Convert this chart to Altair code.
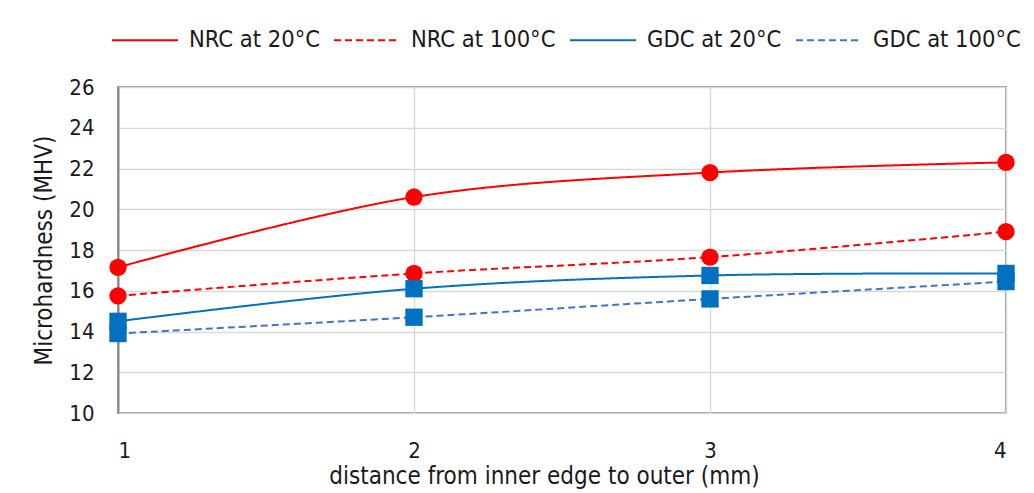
import altair as alt
import pandas as pd

distance = [1, 2, 3, 4]
series_names = ["NRC at 20°C", "NRC at 100°C", "GDC at 20°C", "GDC at 100°C"]
nrc_20 = [17.15, 20.6, 21.8, 22.3]
nrc_100 = [15.75, 16.85, 17.65, 18.9]
gdc_20 = [14.5, 16.1, 16.75, 16.85]
gdc_100 = [13.9, 14.7, 15.6, 16.45]

colors = ["#FF0000", "#FF0000", "#0070C0", "#4472C4"]
marker_colors = ["#FF0000", "#FF0000", "#0070C0", "#0070C0"]
dashes = [[1, 0], [7, 4], [1, 0], [7, 4]]
shapes = ["circle", "circle", "square", "square"]
marker_sizes = [300, 300, 270, 200]

marker_keys = ["#" + n for n in series_names]      # separate domain for the marker legend
size_keys = ["s" + n for n in series_names]

rows = []
for name, mk, sk, vals in zip(series_names, marker_keys, size_keys,
                              [nrc_20, nrc_100, gdc_20, gdc_100]):
    for d, v in zip(distance, vals):
        rows.append({"distance": d, "value": v, "series": name, "marker": mk, "sz": sk})
df = pd.DataFrame(rows)

FONT = "DejaVu Sans Condensed"
TXT = "#1a1a1a"

LINE_LEN = 66          # legend line sample length
SIZE_A = 68            # ceil(sqrt(LINE_LEN^2) + stroke width)
MARK_SIZE = 290
SIZE_B = 18            # ceil(sqrt(MARK_SIZE))
LEG_X = -7
LEG_Y = -81

x = alt.X("distance:Q", scale=alt.Scale(domain=[1, 4], nice=False),
          axis=alt.Axis(values=distance, format="d", title="distance from inner edge to outer (mm)",
                        labelPadding=27, ticks=False, domain=False, gridColor="#d9d9d9",
                        gridWidth=1.5, titlePadding=3, titleX=426, labelFontSize=22,
                        titleFontSize=24))
y = alt.Y("value:Q", scale=alt.Scale(domain=[10, 26], nice=False),
          axis=alt.Axis(values=list(range(10, 27, 2)), title="Microhardness (MHV)",
                        labelPadding=24, ticks=False, domain=True, domainColor="#888888",
                        domainWidth=2, gridColor="#d9d9d9", gridWidth=1.5, titlePadding=12,
                        labelFontSize=22, titleFontSize=24))

# legend A: line samples + labels
color = alt.Color("series:N", sort=series_names,
                  scale=alt.Scale(domain=series_names, range=colors),
                  legend=alt.Legend(title=None, orient="none", legendX=LEG_X, legendY=LEG_Y,
                                    direction="horizontal", columns=4, symbolType="stroke",
                                    symbolSize=LINE_LEN * LINE_LEN, symbolStrokeWidth=2,
                                    columnPadding=10, labelOffset=10,
                                    labelLimit=300, labelFontSize=23.5, zindex=1))
dash = alt.StrokeDash("series:N", sort=series_names,
                      scale=alt.Scale(domain=series_names, range=dashes))

# legend B: markers placed on the middle of each line sample (labels hidden)
fill = alt.Fill("marker:N", sort=marker_keys,
                scale=alt.Scale(domain=marker_keys, range=marker_colors),
                legend=alt.Legend(title=None, orient="none",
                                  legendX=LEG_X + SIZE_A / 2 - SIZE_B / 2,
                                  legendY=LEG_Y + SIZE_A / 2 - SIZE_B / 2,
                                  direction="horizontal", columns=4, columnPadding=10,
                                  symbolSize=MARK_SIZE, symbolStrokeWidth=0,
                                  labelOffset=SIZE_A + 10 - 1 - SIZE_B, labelLimit=300,
                                  labelExpr="slice(datum.value, 1)",
                                  labelFontSize=23.5, labelOpacity=0, zindex=2))

lines = alt.Chart(df).mark_line(interpolate="catmull-rom", strokeWidth=2).encode(
    x=x, y=y, color=color, strokeDash=dash)
points = alt.Chart(df).mark_point(filled=True, opacity=1).encode(
    x=x, y=y, fill=fill,
    shape=alt.Shape("marker:N", scale=alt.Scale(domain=marker_keys, range=shapes), legend=None),
    size=alt.Size("sz:N", scale=alt.Scale(domain=size_keys, range=marker_sizes), legend=None),
)

chart = alt.layer(lines, points).properties(
    width=888, height=326,
    autosize=alt.AutoSizeParams(type="none"),
    padding={"left": 110, "top": 79, "right": 20, "bottom": 76},
).configure_view(stroke="#999999", strokeWidth=2).configure_axis(
    labelFont=FONT, titleFont=FONT, labelColor=TXT, titleColor=TXT, titleFontWeight="normal"
).configure_legend(labelFont=FONT, labelColor=TXT)

chart.save("out.html", embed_options={"renderer": "svg", "actions": False})
